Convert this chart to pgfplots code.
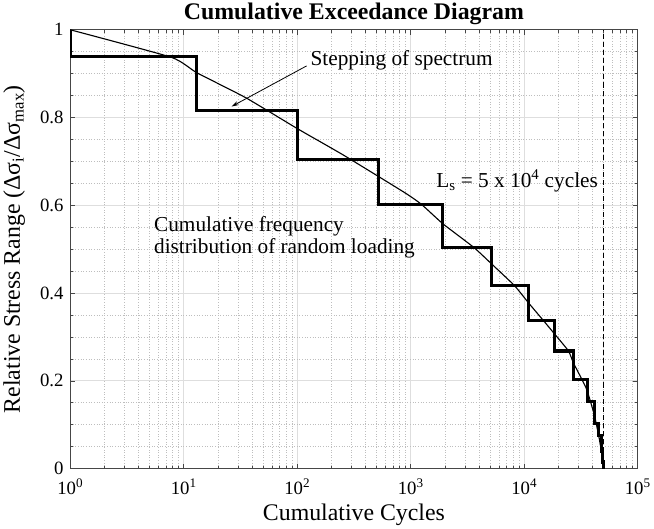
\documentclass[border=0pt]{standalone}
\usepackage{pgfplots}
\pgfplotsset{compat=1.18}
\usepackage{fontspec}
\setmainfont{Liberation Serif}
\usetikzlibrary{arrows.meta}
\newcommand{\tl}[1]{{\fontsize{18.5}{20}\selectfont #1}}

\begin{document}
\begin{tikzpicture}

\definecolor{axgray}{RGB}{70,70,70}
\definecolor{gridmaj}{RGB}{222,222,222}
\definecolor{gridmin}{RGB}{190,190,190}

\begin{axis}[
scale only axis,
width=560pt, height=433pt,
xmode=log,
xmin=1, xmax=1e5,
ymin=0, ymax=1,
xtick={1,10,100,1000,10000,100000},
xticklabels={\tl{10\textsuperscript{0}},\tl{10\textsuperscript{1}},\tl{10\textsuperscript{2}},\tl{10\textsuperscript{3}},\tl{10\textsuperscript{4}},\tl{10\textsuperscript{5}}},
ytick={0,0.2,0.4,0.6,0.8,1},
yticklabels={\tl{0},\tl{0.2},\tl{0.4},\tl{0.6},\tl{0.8},\tl{1}},
minor y tick num=3,
grid=both,
major grid style={gridmaj, line width=0.7pt},
minor grid style={gridmin, line width=0.6pt, dotted},
tick align=inside,
tick pos=both,
major tick length=5pt,
minor tick length=3pt,
axis line style={axgray, line width=0.8pt},
tick style={axgray, line width=0.6pt},
xticklabel style={yshift=-7pt},
yticklabel style={xshift=-3pt},
ylabel shift=8pt,
xlabel shift=2pt,
label style={font=\fontsize{23.5}{26}\selectfont},
title style={font=\bfseries\fontsize{23.5}{26}\selectfont, yshift=-5pt},
title={Cumulative Exceedance Diagram},
xlabel={Cumulative Cycles},
ylabel={Relative Stress Range (Δσ\textsubscript{i}/Δσ\textsubscript{max})},
]

% cumulative frequency distribution
\addplot [black, line width=1.1pt, smooth, tension=0.3] coordinates {
(1,1.0) (7.82,0.937) (13.06,0.902) (35.3,0.845) (101.4,0.774) (257,0.714)
(883,0.629) (1245,0.602) (1919,0.558) (3597,0.504) (5129,0.467)
(8204,0.417) (10965,0.377) (14690,0.338) (18620,0.306) (24547,0.268)
(27230,0.240) (32280,0.203) (35810,0.178) (41590,0.121) (45710,0.07)
(48420,0.03) (50000,0)
};

% stepped spectrum
\addplot [black, line width=3pt, line join=miter] coordinates {
(1,1) (1,0.94) (13,0.94) (13,0.817) (100,0.817) (100,0.704)
(518,0.704) (518,0.601) (1920,0.601) (1920,0.504) (5180,0.504)
(5180,0.417) (11000,0.417) (11000,0.338) (18660,0.338) (18660,0.268)
(27200,0.268) (27200,0.203) (35800,0.203) (35800,0.152) (41600,0.152)
(41600,0.103) (45500,0.103) (45500,0.075) (47700,0.075) (47700,0.04)
(49000,0.04) (49000,0.015) (50000,0.015) (50000,0)
};

% design life
\addplot [black, line width=1.5pt, dash pattern=on 5pt off 3pt] coordinates {
(50000,0) (50000,1)
};

\draw [black, line width=0.8pt, -{Stealth[length=7pt,width=4pt]}]
  (axis cs:121,0.9176) -- (axis cs:26.4,0.825);
\node [anchor=west, font=\fontsize{21}{23}\selectfont, inner sep=1pt]
  at (axis cs:128,0.93) {Stepping of spectrum};
\node [anchor=east, font=\fontsize{21}{23}\selectfont, inner sep=1pt]
  at (axis cs:45700,0.655) {L\textsubscript{s} = 5 x 10\textsuperscript{4} cycles};
\node [anchor=west, align=left, font=\fontsize{21}{22}\selectfont, inner sep=1pt]
  at (axis cs:5.36,0.527) {Cumulative frequency\\distribution of random loading};

\end{axis}

\end{tikzpicture}
\end{document}
